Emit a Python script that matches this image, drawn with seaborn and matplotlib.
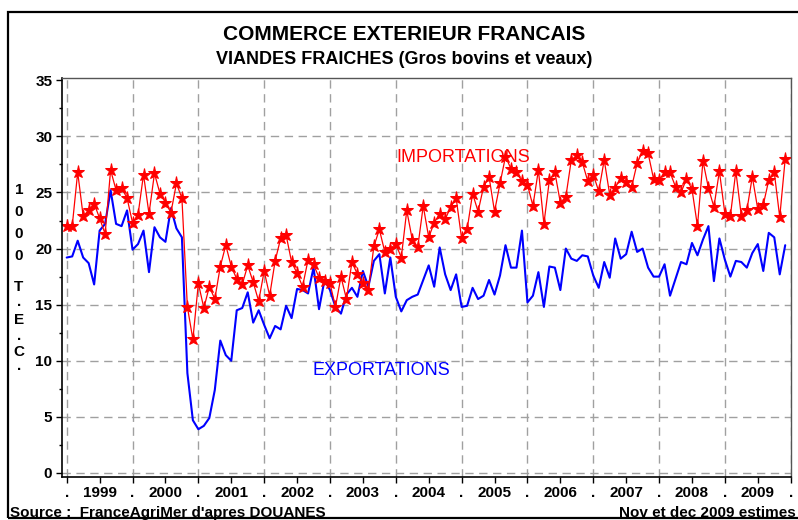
import numpy as np
import pandas as pd
import matplotlib
matplotlib.use("Agg")
import matplotlib.pyplot as plt
import matplotlib.patches as mpatches
import seaborn as sns

# monthly values, Jan 1999 -> Dec 2009 (1000 T.E.C.)
years = [1999, 2000, 2001, 2002, 2003, 2004, 2005, 2006, 2007, 2008, 2009]

importations = [
    22.0, 22.0, 26.8, 22.9, 23.4, 24.0, 22.7, 21.3, 27.0, 25.2, 25.4, 24.5,
    22.3, 23.0, 26.6, 23.1, 26.7, 24.9, 24.1, 23.2, 25.8, 24.5, 14.8, 11.9,
    16.9, 14.7, 16.6, 15.5, 18.4, 20.3, 18.4, 17.3, 16.8, 18.5, 17.0, 15.3,
    18.0, 15.8, 18.9, 20.9, 21.2, 18.8, 17.8, 16.6, 19.0, 18.6, 17.4, 17.1,
    16.9, 14.8, 17.5, 15.5, 18.8, 17.7, 16.9, 16.3, 20.2, 21.7, 19.7, 20.0,
    20.4, 19.2, 23.4, 20.8, 20.1, 23.8, 21.0, 22.3, 23.1, 22.6, 23.7, 24.5,
    20.9, 21.7, 24.9, 23.3, 25.5, 26.4, 23.3, 25.8, 28.2, 27.1, 26.8, 26.0,
    25.7, 23.8, 27.0, 22.2, 26.1, 26.8, 24.1, 24.6, 27.9, 28.3, 27.7, 26.0,
    26.6, 25.1, 27.9, 24.8, 25.4, 26.3, 25.9, 25.5, 27.6, 28.7, 28.5, 26.2,
    26.1, 26.8, 26.8, 25.5, 25.0, 26.2, 25.3, 22.0, 27.8, 25.4, 23.7, 26.9,
    23.1, 22.9, 26.9, 22.9, 23.4, 26.4, 23.5, 23.9, 26.1, 26.8, 22.8, 28.0,
]

exportations = [
    19.2, 19.3, 20.7, 19.2, 18.7, 16.8, 21.6, 22.2, 25.2, 22.2, 22.0, 23.4,
    19.9, 20.4, 21.6, 17.9, 21.9, 21.0, 20.6, 23.6, 21.8, 21.0, 8.9, 4.7,
    3.9, 4.2, 4.9, 7.4, 11.8, 10.5, 10.0, 14.5, 14.7, 16.1, 13.4, 14.5,
    13.2, 12.0, 13.1, 12.8, 14.9, 13.8, 16.4, 16.3, 16.0, 18.3, 14.6, 17.2,
    16.3, 14.8, 14.2, 15.9, 16.5, 15.7, 18.0, 16.6, 18.9, 19.5, 16.0, 19.2,
    15.7, 14.4, 15.4, 15.7, 15.9, 17.2, 18.5, 16.6, 20.1, 17.7, 16.3, 17.7,
    14.8, 14.9, 16.5, 15.5, 15.8, 17.2, 15.9, 17.6, 20.3, 18.3, 18.3, 21.6,
    15.2, 15.8, 17.9, 14.8, 18.4, 18.3, 16.3, 20.0, 19.1, 18.9, 19.4, 19.3,
    17.6, 16.5, 18.8, 17.4, 20.9, 19.1, 19.5, 21.5, 19.7, 20.0, 18.3, 17.5,
    17.5, 18.6, 15.8, 17.3, 18.8, 18.6, 20.5, 19.4, 20.8, 22.0, 17.1, 20.9,
    19.0, 17.5, 18.9, 18.8, 18.3, 19.6, 20.4, 18.0, 21.4, 21.0, 17.7, 20.3,
]

df = pd.DataFrame({
    "mois": np.arange(len(importations)),
    "IMPORTATIONS": importations,
    "EXPORTATIONS": exportations,
})

sns.set_style("ticks")
plt.rcParams["font.family"] = ["Liberation Sans", "DejaVu Sans"]
plt.rcParams["text.color"] = "black"
plt.rcParams["xtick.color"] = "black"
plt.rcParams["ytick.color"] = "black"

fig = plt.figure(figsize=(7.98, 5.2), dpi=100)
ax = fig.add_axes([0.0777, 0.0833, 0.9135, 0.7667])

# grid first so the lines sit on top
grid_kw = dict(color="#a0a0a0", lw=1.0, ls=(0, (6, 4)), zorder=0)
for v in range(0, 35, 5):
    ax.axhline(v, **grid_kw)
for k in range(0, len(importations) + 1, 12):
    ax.axvline(k, **grid_kw)

sns.lineplot(data=df, x="mois", y="EXPORTATIONS", color="#0000ff", lw=1.5, ax=ax)
sns.lineplot(data=df, x="mois", y="IMPORTATIONS", color="#ff0000", lw=0.9,
             marker="*", markersize=9.5, markeredgecolor="#ff0000",
             markerfacecolor="#ff0000", ax=ax)

ax.text(72.3, 28.1, "IMPORTATIONS", color="#ff0000", fontsize=13,
        ha="center", va="center")
ax.text(57.4, 9.1, "EXPORTATIONS", color="#0000ff", fontsize=13,
        ha="center", va="center")

ax.set_xlim(-0.86, 132.05)
ax.set_ylim(-0.33, 35.2)

xt = list(range(0, 133, 6))
xl = []
for t in xt:
    if t % 12 == 0:
        xl.append(".")
    else:
        xl.append(str(years[t // 12]))
ax.set_xticks(xt)
ax.set_xticklabels(xl, fontweight="bold", fontsize=11)
ax.set_yticks(range(0, 36, 5))
ax.set_yticklabels([str(v) for v in range(0, 36, 5)], fontweight="bold", fontsize=11)
ax.set_yticks(np.arange(2.5, 35, 5), minor=True)
ax.tick_params(axis="both", which="major", length=4, width=1, color="black", pad=3)
ax.tick_params(axis="y", which="minor", length=2, width=1)
ax.set_xlabel("")
ax.set_ylabel("")

for s in ["left", "bottom"]:
    ax.spines[s].set_color("black")
    ax.spines[s].set_linewidth(1.2)
for s in ["top", "right"]:
    ax.spines[s].set_color("#555555")
    ax.spines[s].set_linewidth(1.0)

# titles
fig.text(0.507, 0.933, "COMMERCE EXTERIEUR FRANCAIS", ha="center", va="center",
         fontsize=15, fontweight="bold")
fig.text(0.507, 0.885, "VIANDES FRAICHES (Gros bovins et veaux)", ha="center",
         va="center", fontsize=13, fontweight="bold")

# vertical unit label, one character per line
lab_chars = ["1", "0", "0", "0", "T", ".", "E", ".", "C", "."]
lab_y = [190, 212, 234, 256, 287, 302, 320, 336, 352, 366]
for c, yp in zip(lab_chars, lab_y):
    fig.text(19 / 798, 1 - yp / 520, c, ha="center", va="center",
             fontsize=11, fontweight="bold")

fig.text(10 / 798, 1 - 513 / 520, "Source :  FranceAgriMer d'apres DOUANES",
         ha="left", va="center", fontsize=11, fontweight="bold")
fig.text(796 / 798, 1 - 513 / 520, "Nov et dec 2009 estimes",
         ha="right", va="center", fontsize=11, fontweight="bold")

# outer frame
fig.patches.append(mpatches.Rectangle((8 / 798, 2 / 520), 1.0, 1 - 14 / 520,
                                      transform=fig.transFigure, fill=False,
                                      lw=1.6, ec="black"))

fig.savefig("out.png", dpi=100)
